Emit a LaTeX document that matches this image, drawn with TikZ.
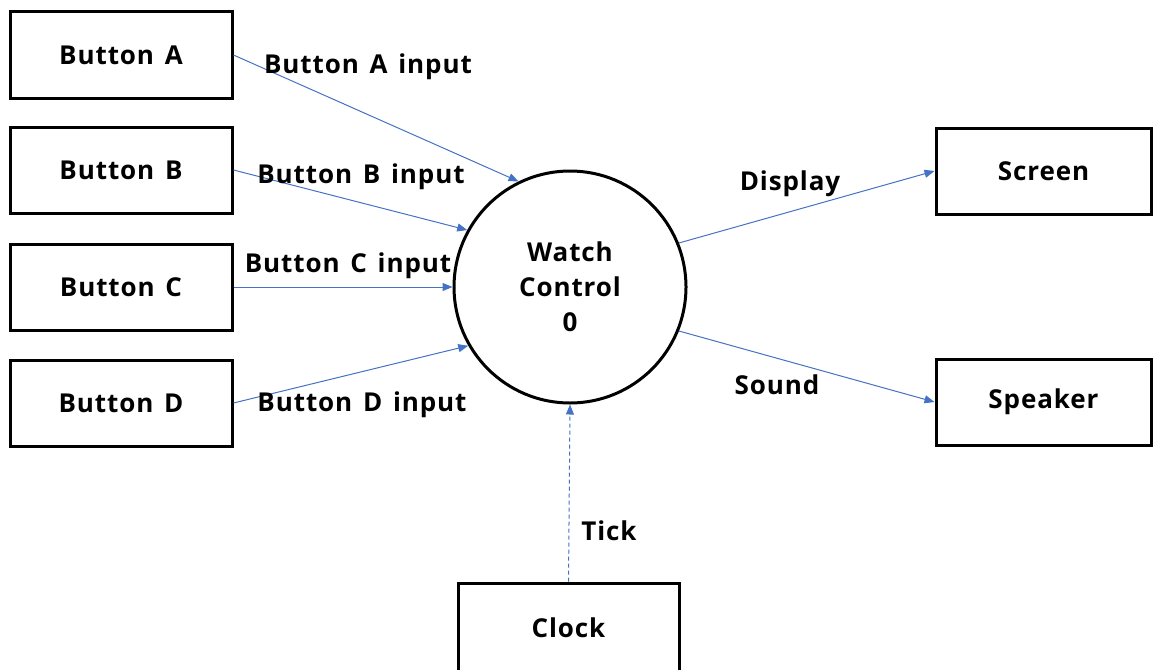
\documentclass[tikz,border=0pt]{standalone}
\usepackage{fontspec}
\setmainfont{Open Sans}
\newfontfamily\lblfont{Open Sans}[LetterSpace=3.5,WordSpace=1.4]
\usetikzlibrary{arrows.meta}
\definecolor{flowblue}{HTML}{4472C4}
\begin{document}
\begin{tikzpicture}[x=1pt,y=-1pt,
  box/.style={draw=black,line width=3pt,minimum width=222pt,minimum height=86pt,inner sep=0pt,font=\lblfont\fontsize{26}{30}\selectfont\bfseries},
  proc/.style={draw=black,line width=3pt,circle,minimum size=232pt,inner sep=0pt,align=center,font=\lblfont\fontsize{26}{35}\selectfont\bfseries},
  flow/.style={draw=flowblue,line width=1pt,-{Triangle[length=10pt,width=8pt]}},
  lbl/.style={font=\lblfont\fontsize{26}{30}\selectfont\bfseries,inner sep=0pt}]
\useasboundingbox (0,0) rectangle (1153,669);
\node[box] (A) at (121,55) {Button A};
\node[box] (B) at (121,170) {Button B};
\node[box] (C) at (121,287) {Button C};
\node[box] (D) at (121,403) {Button D};
\node[box,minimum width=215pt] (S) at (1043.5,171) {Screen};
\node[box,minimum width=215pt] (P) at (1043.5,402) {Speaker};
\node[box,minimum width=221pt,minimum height=100pt] (K) at (568.5,633) {};
\node[lbl] (Kt) at (568.5,628) {Clock};
\node[proc] (W) at (570,287) {Watch\\Control\\0};
\draw[flow] (A.east) -- (W.116);
\draw[flow] (B.east) -- (W.151);
\draw[flow] (C.east) -- (W.west);
\draw[flow] (D.east) -- (W.210);
\draw[flow] (W.22) -- (S.west);
\draw[flow] (W.-22) -- (P.west);
\draw[flow,dash pattern=on 4pt off 3pt] (K.north) -- (W.south);
\node[lbl] (la) at (368,67) {Button A input};
\node[lbl] (lb) at (361,177) {Button B input};
\node[lbl] (lc) at (348,266) {Button C input};
\node[lbl] (ld) at (362,405) {Button D input};
\node[lbl] (ls) at (790,184) {Display};
\node[lbl] (lp) at (777,385) {Sound};
\node[lbl] (lt) at (609,531) {Tick};
\end{tikzpicture}
\end{document}
